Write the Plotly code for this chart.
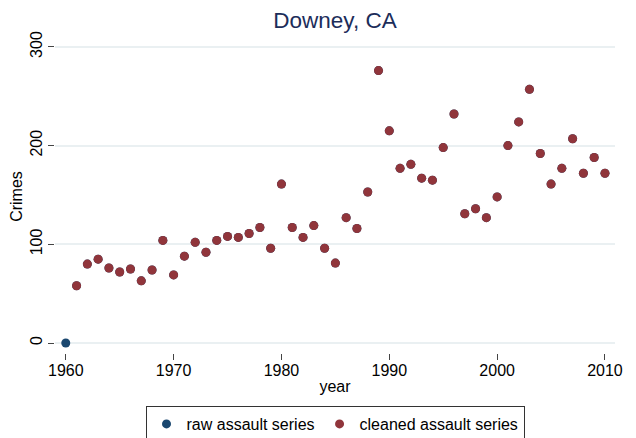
import plotly.graph_objects as go

years = list(range(1960, 2011))
raw_assault = [0, 58, 80, 85, 76, 72, 75, 63, 74, 104,
               69, 88, 102, 92, 104, 108, 107, 111, 117, 96,
               161, 117, 107, 119, 96, 81, 127, 116, 153, 276,
               215, 177, 181, 167, 165, 198, 232, 131, 136, 127,
               148, 200, 224, 257, 192, 161, 177, 207, 172, 188,
               172]
# cleaned series drops the 1960 zero
clean_years = years[1:]
clean_assault = raw_assault[1:]

y_ticks = [0, 100, 200, 300]
x_ticks = [1960, 1970, 1980, 1990, 2000, 2010]

fig = go.Figure()
fig.add_trace(go.Scatter(
    x=years, y=raw_assault, mode='markers', name='raw assault series',
    marker=dict(size=9, color='#1a476f')))
fig.add_trace(go.Scatter(
    x=clean_years, y=clean_assault, mode='markers', name='cleaned assault series',
    marker=dict(size=9, color='#90353b')))

# page body keeps its default 8px margin, so the figure is 8px smaller each way
fig.update_layout(
    width=628, height=430,
    margin=dict(l=47, r=21, t=32, b=85, autoexpand=False),
    paper_bgcolor='white', plot_bgcolor='white',
    font=dict(family='Liberation Sans, Arial, sans-serif', size=16, color='#000000'),
    title=dict(text='Downey, CA', x=0.5, xanchor='center', xref='paper',
               y=0.972, yanchor='middle',
               font=dict(size=22.5, color='#1c2d5a')),
    legend=dict(orientation='h', x=0.5, xanchor='center',
                yref='container', y=0.0744, yanchor='top',
                bordercolor='#333333', borderwidth=1,
                font=dict(size=16), itemwidth=30),
    xaxis=dict(range=[1959, 2010.93], tickvals=x_ticks, showgrid=False,
               zeroline=False, showline=False, ticks='outside', ticklen=6,
               tickcolor='#444444', automargin=False, ticklabelstandoff=-3,
               tickfont=dict(size=16),
               title=dict(text='year', standoff=2, font=dict(size=16))),
    yaxis=dict(range=[-10.1, 307], tickvals=y_ticks, showgrid=True,
               gridcolor='#eaf0f2', gridwidth=1.5, zeroline=False, showline=False,
               ticks='outside', ticklen=6, tickcolor='#444444', tickangle=-90,
               automargin=False, ticklabelstandoff=0, tickfont=dict(size=16),
               title=dict(text='Crimes', standoff=2, font=dict(size=16))),
)

fig.write_html("out.html")
